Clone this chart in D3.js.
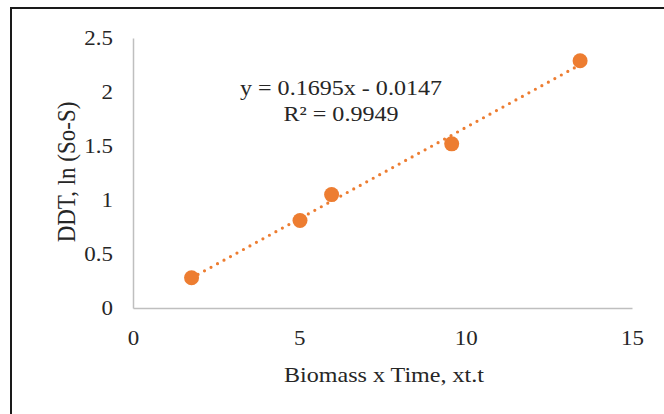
<!DOCTYPE html>
<html>
<head>
<meta charset="utf-8">
<script src="https://cdn.jsdelivr.net/npm/d3@7"></script>
<style>
    html, body { margin: 0; padding: 0; background: #fff; }
    #chart text { font-family: "Liberation Serif", "Times New Roman", serif; fill: #262626; }
</style>
</head>
<body>
<div id="chart"></div>
<script>
const biomassTime = [1.76, 5.02, 5.97, 9.58, 13.44];
const ddtLn = [0.28, 0.81, 1.05, 1.52, 2.29];
const xTicks = [0, 5, 10, 15];
const yTicks = [0, 0.5, 1, 1.5, 2, 2.5];
const equationLines = ['y = 0.1695x - 0.0147', 'R\u00b2 = 0.9949'];

const width = 664;
const height = 414;
const margin = { top: 38, right: 32, bottom: 106, left: 133 };
const stretch = 1.12;
const orange = '#ED7D31';

const svg = d3.select('#chart')
    .append('svg')
    .attr('width', width)
    .attr('height', height);

// outer frame (only left + top edges fall inside the picture)
svg.append('rect')
    .attr('x', 11)
    .attr('y', 8)
    .attr('width', 800)
    .attr('height', 600)
    .attr('fill', 'none')
    .attr('stroke', '#1a1a1a')
    .attr('stroke-width', 2);

const xScale = d3.scaleLinear()
    .domain([0, 15])
    .range([margin.left, width - margin.right]);

const yScale = d3.scaleLinear()
    .domain([0, 2.5])
    .range([height - margin.bottom, margin.top]);

const x0 = xScale(0);
const y0 = yScale(0);

// x axis
const xAxis = d3.axisBottom(xScale)
    .tickValues(xTicks)
    .tickSize(0)
    .tickPadding(0)
    .tickFormat(d3.format('d'));
const gx = svg.append('g')
    .attr('transform', `translate(0,${y0})`)
    .call(xAxis);
gx.select('.domain').attr('stroke', '#bfbfbf').attr('stroke-width', 1.5);
gx.selectAll('.tick text')
    .attr('font-size', 20.5)
    .attr('dy', null)
    .attr('y', 37)
    .attr('transform', `scale(${stretch},1)`);

// y axis
const yAxis = d3.axisLeft(yScale)
    .tickValues(yTicks)
    .tickSize(0)
    .tickPadding(0)
    .tickFormat(d => d);
const gy = svg.append('g')
    .attr('transform', `translate(${x0},0)`)
    .call(yAxis);
gy.select('.domain').attr('stroke', '#bfbfbf').attr('stroke-width', 1.5);
gy.selectAll('.tick text')
    .attr('font-size', 20.5)
    .attr('x', -20 / stretch)
    .attr('dy', '0.34em')
    .attr('transform', `scale(${stretch},1)`);

// trendline from least squares of the points
const mx = d3.mean(biomassTime);
const my = d3.mean(ddtLn);
const slope = d3.sum(biomassTime, (x, i) => (x - mx) * (ddtLn[i] - my)) /
    d3.sum(biomassTime, x => (x - mx) * (x - mx));
const intercept = my - slope * mx;
const xExtent = d3.extent(biomassTime);

svg.append('path')
    .datum(xExtent)
    .attr('fill', 'none')
    .attr('stroke', orange)
    .attr('stroke-width', 3.2)
    .attr('stroke-linecap', 'round')
    .attr('stroke-dasharray', '0 7.4')
    .attr('d', d3.line()
        .x(d => xScale(d))
        .y(d => yScale(slope * d + intercept)));

svg.selectAll('.pt')
    .data(biomassTime.map((x, i) => [x, ddtLn[i]]))
    .enter()
    .append('circle')
    .attr('class', 'pt')
    .attr('cx', d => xScale(d[0]))
    .attr('cy', d => yScale(d[1]))
    .attr('r', 7.5)
    .attr('fill', orange);

// equation label
const eqX = 341;
svg.selectAll('.eq')
    .data(equationLines)
    .enter()
    .append('text')
    .attr('class', 'eq')
    .attr('text-anchor', 'middle')
    .attr('font-size', 21.5)
    .attr('transform', (d, i) => `translate(${eqX},${95 + i * 26}) scale(${stretch},1)`)
    .text(d => d);

// axis titles
svg.append('text')
    .attr('text-anchor', 'middle')
    .attr('font-size', 21.5)
    .attr('transform', `translate(384,382) scale(${stretch},1)`)
    .text('Biomass x Time, xt.t');

svg.append('text')
    .attr('text-anchor', 'middle')
    .attr('font-size', 23)
    .attr('transform', `translate(75,172) rotate(-90) scale(1,${stretch})`)
    .text('DDT,  ln (So-S)');
</script>
</body>
</html>
